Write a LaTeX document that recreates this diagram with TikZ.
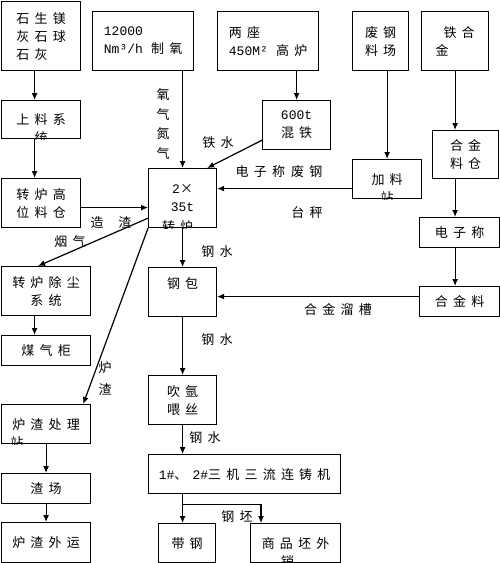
\documentclass[tikz,border=0pt]{standalone}
\usepackage{fontspec}
\setmainfont{Noto Sans CJK SC}[LetterSpace=40]
\setmonofont{Liberation Mono}
\usetikzlibrary{arrows.meta}
\newcommand\boxfont{\fontsize{13}{18}\selectfont}
% last line of a box, cut by its lower edge
\newcommand\cutchar[3]{%
    \begin{scope}
        \clip (#1.south west) rectangle (#1.north east);
        \node[tag, anchor=north] (#1cut) at ([xshift=#2,yshift=8]#1.south) {#3};
    \end{scope}}
\tikzset{
    box/.style={draw, line width=1.2pt, inner sep=0pt, align=center, anchor=north west, font=\boxfont},
    flow/.style={line width=1.2pt, -{Latex[length=7pt,width=6pt]}},
    tag/.style={inner sep=0pt, align=center, font=\boxfont},
}
\begin{document}
\begin{tikzpicture}[x=1pt, y=-1pt]
    \useasboundingbox (0,0) rectangle (500,563);

    % Raw materials
    \node[box, minimum width=79, minimum height=69, align=left] (lime) at (1,1) {石生镁\\灰石球\\石灰};
    \node[box, minimum width=101, minimum height=59, align=left] (oxy) at (92,11) {\texttt{12000}\\\texttt{Nm³/h} 制氧};
    \node[box, minimum width=101, minimum height=59, align=left] (bf) at (217,11) {两座\\\texttt{450M²} 高炉};
    \node[box, minimum width=56, minimum height=59] (scrap) at (352,11) {废钢\\料场};
    \node[box, minimum width=67, minimum height=59, align=left] (fe) at (421,11) {\hspace{8pt}铁合\\金};

    % Feeding
    \node[box, minimum width=79, minimum height=38] (feed) at (1,100) {上料系};
    \node[box, minimum width=79, minimum height=49] (bin) at (1,178) {转炉高\\位料仓};
    \node[box, minimum width=68, minimum height=49] (mix) at (262,100) {\texttt{600t}\\混铁};
    \node[box, minimum width=69, minimum height=39] (charge) at (352,159) {加料};
    \node[box, minimum width=66, minimum height=48] (abin) at (432,130) {合金\\料仓};
    \node[box, minimum width=80, minimum height=30] (scale) at (419,217) {电子称};
    \node[box, minimum width=80, minimum height=30] (alloy) at (419,286) {合金料};

    % Converter and steel line
    \node[box, minimum width=68, minimum height=59] (conv) at (148,168) {\texttt{2}×\\\texttt{35t}};
    \node[box, minimum width=68, minimum height=49, text depth=18pt] (ladle) at (148,267) {钢包};
    \node[box, minimum width=68, minimum height=49] (argon) at (148,375) {吹氩\\喂丝};
    \node[box, minimum width=192, minimum height=39] (cast) at (148,454) {\texttt{1\#}、\texttt{2\#}三机三流连铸机};
    \node[box, minimum width=57, minimum height=39] (strip) at (158,523) {带钢};
    \node[box, minimum width=90, minimum height=39] (sale) at (250,523) {商品坯外};

    % Gas and slag
    \node[box, minimum width=89, minimum height=49] (dust) at (1,266) {转炉除尘\\系统};
    \node[box, minimum width=89, minimum height=30] (gas) at (1,335) {煤气柜};
    \node[box, minimum width=89, minimum height=39] (slag) at (1,404) {炉渣处理};
    \node[box, minimum width=89, minimum height=30] (yard) at (1,473) {渣场};
    \node[box, minimum width=89, minimum height=40] (out) at (1,522) {炉渣外运};

    % Cut last lines
    \cutchar{feed}{0}{统}
    \cutchar{charge}{0}{站}
    \cutchar{conv}{-5}{转炉}
    \cutchar{sale}{-8}{销}
    \cutchar{slag}{-29}{站}

    % Arrows
    \draw[flow] ([xshift=-6.5]lime.south) -- ([xshift=-6.5]feed.north);
    \draw[flow] ([xshift=-6.5]feed.south) -- ([xshift=-6.5]bin.north);
    \draw[flow] ([yshift=-4.5]bin.east) -- ([yshift=-4.5]bin.east -| conv.west);
    \draw[flow] (oxy.south -| conv.north) -- (conv.north);
    \draw[flow] (bf.south -| mix.north) -- (mix.north);
    \draw[flow] ([yshift=10]mix.south west) -- ([xshift=-10]conv.north east);
    \draw[flow] (scrap.south -| charge.north) -- (charge.north);
    \draw[flow] ([yshift=-9.5]charge.west) -- ([yshift=-9.5]charge.west -| conv.east);
    \draw[flow] (fe.south) -- (fe.south |- abin.north);
    \draw[flow] (fe.south |- abin.south) -- (fe.south |- scale.north);
    \draw[flow] (fe.south |- scale.south) -- (fe.south |- alloy.north);
    \draw[flow] ([yshift=5]alloy.west) -- ([yshift=5]alloy.west -| ladle.east);
    \draw[flow] (conv.south) -- (ladle.north);
    \draw[flow] (ladle.south) -- (argon.north);
    \draw[flow] (argon.south) -- (argon.south |- cast.north);
    \coordinate (split) at ([yshift=-10]argon.south |- cast.south);
    \draw[flow] (argon.south |- cast.south) -- (argon.south |- strip.north);
    \draw[flow] (split) -| ([xshift=11]sale.north west);
    \draw[flow] ([yshift=10]conv.south west) -- ([xshift=37]dust.north west);
    \draw[flow] (conv.south west) -- ([xshift=-8]slag.north east);
    \draw[flow] ([xshift=-11.5]dust.south) -- ([xshift=-11.5]gas.north);
    \draw[flow] (slag.south) -- (yard.north);
    \draw[flow] (yard.south) -- (out.north);

    % Labels
    \node[tag] (zaozha) at (111,223) {造\hspace{15pt}渣};
    \node[tag, font=\fontsize{13}{19.5}\selectfont] (gases) at (163,124) {氧\\气\\氮\\气};
    \node[tag] (hotmetal) at (218,143) {铁水};
    \node[tag] (scraptag) at (279,172) {电子称\hspace{6pt}废钢};
    \node[tag] (scaletag) at (307,213) {台秤};
    \node[tag] (fumes) at (70,242) {烟气};
    \node[tag] (steel1) at (217,252) {钢水};
    \node[tag] (steel2) at (217,340) {钢水};
    \node[tag] (steel3) at (205,438) {钢水};
    \node[tag] (chute) at (338,310) {合金溜槽};
    \node[tag, font=\fontsize{13}{22}\selectfont] (slagtag) at (105,378) {炉\\渣};
    \node[tag] (billet) at (237,517) {钢坯};
\end{tikzpicture}
\end{document}
